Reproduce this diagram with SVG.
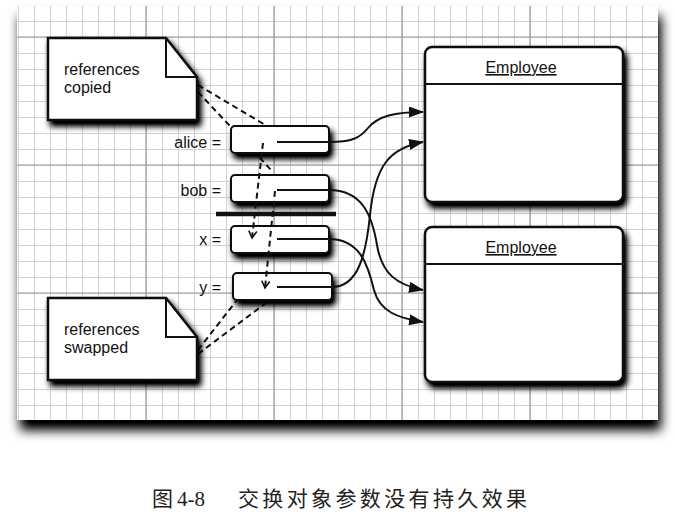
<svg xmlns="http://www.w3.org/2000/svg" width="675" height="521" viewBox="0 0 675 521">
<style>
.lbl{font-family:"Liberation Sans",Arial,sans-serif;font-size:16px;fill:#111}
.box{fill:#fff;stroke:#111;stroke-width:2.5}
.vbox{fill:#fff;stroke:#111;stroke-width:2}
.con{fill:none;stroke:#111;stroke-width:2}
.dash{fill:none;stroke:#111;stroke-width:2;stroke-dasharray:6 4}
.cap{font-family:"Liberation Serif","Noto Sans CJK SC",serif;font-size:21px;fill:#222}
</style>
<defs>
<pattern id="grid" patternUnits="userSpaceOnUse" x="18" y="5" width="16" height="16">
<path d="M0,0.5H16M0.5,0V16" stroke="#d2d2d2" stroke-width="1" fill="none"/>
</pattern>
<filter id="psh" x="-10%" y="-10%" width="120%" height="130%">
<feGaussianBlur in="SourceAlpha" stdDeviation="6"/>
<feOffset dx="3" dy="10"/>
<feComponentTransfer><feFuncA type="linear" slope="1.1"/></feComponentTransfer>
<feMerge><feMergeNode/><feMergeNode in="SourceGraphic"/></feMerge>
</filter>
<filter id="sh" x="-20%" y="-20%" width="150%" height="170%">
<feGaussianBlur in="SourceAlpha" stdDeviation="3"/>
<feOffset dx="3" dy="5"/>
<feComponentTransfer><feFuncA type="linear" slope="1.2"/></feComponentTransfer>
<feMerge><feMergeNode/><feMergeNode in="SourceGraphic"/></feMerge>
</filter>
<marker id="ah" markerUnits="userSpaceOnUse" markerWidth="15" markerHeight="11" refX="14" refY="5.5" orient="auto">
<path d="M0,0 L15,5.5 L0,11 Z" fill="#111"/>
</marker>
<marker id="oh" markerUnits="userSpaceOnUse" markerWidth="10" markerHeight="10" refX="8" refY="5" orient="auto">
<path d="M1,1 L8,5 L1,9" fill="none" stroke="#111" stroke-width="1.6"/>
</marker>
</defs>

<g id="panel">
<rect x="17" y="6" width="641" height="414" fill="#fff" filter="url(#psh)"/>
<rect x="17" y="6" width="641" height="414" fill="url(#grid)"/>
<path d="M146,6V420M274,6V420M402,6V420M530,6V420M17,37H658M17,165H658M17,293H658" stroke="#9a9a9a" stroke-width="1.2" fill="none"/>
</g>

<g id="copied-links">
<path class="dash" d="M198,85 L267,126"/>
<path class="dash" d="M198,92 L273,172"/>
<path class="dash" d="M198,350 L237,300"/>
<path class="dash" d="M198,354 L270,300"/>
</g>

<g id="note-copied">
<path class="box" d="M48,38 H166 L197,77 V120 H48 Z" filter="url(#sh)"/>
<path d="M166,38 V77 H197" fill="none" stroke="#111" stroke-width="2"/>
<text class="lbl" x="64" y="75">references</text>
<text class="lbl" x="64" y="93">copied</text>
</g>

<g id="note-swapped">
<path class="box" d="M48,298 H166 L197,337 V380 H48 Z" filter="url(#sh)"/>
<path d="M166,298 V337 H197" fill="none" stroke="#111" stroke-width="2"/>
<text class="lbl" x="64" y="335">references</text>
<text class="lbl" x="64" y="353">swapped</text>
</g>

<g id="employee1">
<rect class="box" x="425" y="47" width="198" height="155" rx="7" filter="url(#sh)"/>
<path d="M425,84H623" stroke="#111" stroke-width="2"/>
<text class="lbl" x="521" y="73" text-anchor="middle" text-decoration="underline">Employee</text>
</g>

<g id="employee2">
<rect class="box" x="425" y="227" width="198" height="155" rx="7" filter="url(#sh)"/>
<path d="M425,264H623" stroke="#111" stroke-width="2"/>
<text class="lbl" x="521" y="253" text-anchor="middle" text-decoration="underline">Employee</text>
</g>

<g id="alice">
<rect class="vbox" x="231" y="126" width="98" height="27" rx="4" filter="url(#sh)"/>
<text class="lbl" x="221" y="148" text-anchor="end">alice =</text>
</g>
<g id="bob">
<rect class="vbox" x="231" y="175" width="98" height="27" rx="4" filter="url(#sh)"/>
<text class="lbl" x="221" y="196" text-anchor="end">bob =</text>
</g>
<g id="divider">
<path d="M216,214H336" stroke="#111" stroke-width="4.5"/>
</g>
<g id="x">
<rect class="vbox" x="231" y="226" width="98" height="27" rx="4" filter="url(#sh)"/>
<text class="lbl" x="221" y="245" text-anchor="end">x =</text>
</g>
<g id="y">
<rect class="vbox" x="233" y="273" width="99" height="27" rx="4" filter="url(#sh)"/>
<text class="lbl" x="221" y="293" text-anchor="end">y =</text>
</g>

<g id="connectors">
<path class="con" marker-end="url(#ah)" d="M277,142 H329 C352,142 360,138 368,128 C378,116 395,112 423,112"/>
<path class="con" marker-end="url(#ah)" d="M277,190 H329 C362,190 372,215 377,245 C382,275 398,285 423,290"/>
<path class="con" marker-end="url(#ah)" d="M277,239 H329 C360,239 368,265 374,290 C380,312 398,318 423,322"/>
<path class="con" marker-end="url(#ah)" d="M277,287 H332 C358,287 366,255 370,215 C375,165 390,148 423,142"/>
<path class="dash" marker-end="url(#oh)" d="M263,143 L252,238"/>
<path class="dash" marker-end="url(#oh)" d="M275,191 L265,288"/>
</g>

<g id="caption">
<text class="cap" x="152" y="506">图</text>
<text class="cap" x="177" y="506">4-8</text>
<text class="cap" x="238" y="506" textLength="289" lengthAdjust="spacing">交换对象参数没有持久效果</text>
</g>
</svg>
